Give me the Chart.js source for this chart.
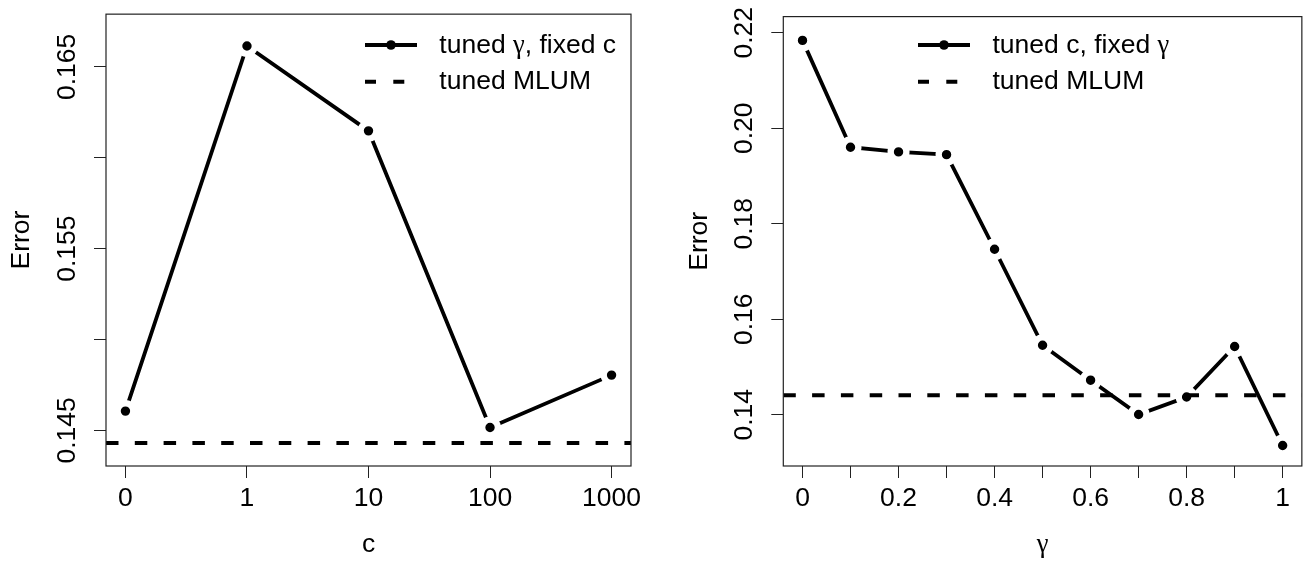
<!DOCTYPE html>
<html>
<head>
<meta charset="utf-8">
<script src="https://cdn.jsdelivr.net/npm/chart.js@4.4.1/dist/chart.umd.min.js"></script>
<style>
html, body { margin: 0; padding: 0; background: #ffffff; }
#wrap { position: relative; width: 1316px; height: 564px; overflow: hidden; }
canvas { position: absolute; top: 0; }
</style>
</head>
<body>
<div id="wrap">
  <canvas id="leftChart" width="658" height="564" style="left:0px"></canvas>
  <canvas id="rightChart" width="658" height="564" style="left:658px"></canvas>
</div>
<script>
// ---------- data ----------
const cCategories = ['0', '1', '10', '100', '1000'];
const cErrors = [0.14606, 0.16615, 0.16148, 0.14516, 0.14804];
const mlumLeft = 0.1443;

const gammaValues = [0, 0.1, 0.2, 0.3, 0.4, 0.5, 0.6, 0.7, 0.8, 0.9, 1.0];
const gammaErrors = [0.2184, 0.19602, 0.19505, 0.19447, 0.17467, 0.15457, 0.14725, 0.14006, 0.14373, 0.1543, 0.13358];
const mlumRight = 0.1441;

// tick values and labels
const leftYTicks = [0.145, 0.150, 0.155, 0.160, 0.165];
const leftYTickLabels = ['0.145', '', '0.155', '', '0.165'];
const leftXTicks = [0, 1, 2, 3, 4];
const rightYTicks = [0.14, 0.16, 0.18, 0.20, 0.22];
const rightYTickLabels = ['0.14', '0.16', '0.18', '0.20', '0.22'];
const rightXTicks = gammaValues;
const rightXTickLabels = ['0', '', '0.2', '', '0.4', '', '0.6', '', '0.8', '', '1'];

// text
const leftXTitle = 'c';
const rightXTitle = 'γ';
const yTitle = 'Error';
const leftSeriesLabel = 'tuned γ, fixed c';
const rightSeriesLabel = 'tuned c, fixed γ';
const mlumLabel = 'tuned MLUM';

// axis ranges (R-style 4% extension)
const leftXRange = [-0.16, 4.16];
const leftYRange = [0.14304, 0.16790];
const rightXRange = [-0.04, 1.04];
const rightYRange = [0.129285, 0.223378];

// ---------- styling ----------
const FONT_FAMILY = "'Liberation Sans', Arial, Helvetica, sans-serif";
const SYMBOL_FAMILY = "'Liberation Serif', 'DejaVu Serif', serif";
const FONT_SIZE = 26.5;
const AXIS_COLOR = '#222222';

const boxPlugin = {
  id: 'rbox',
  afterDraw(chart) {
    const a = chart.chartArea;
    const ctx = chart.ctx;
    ctx.save();
    ctx.strokeStyle = AXIS_COLOR;
    ctx.lineWidth = 1.2;
    ctx.strokeRect(a.left, a.top, a.right - a.left, a.bottom - a.top);
    ctx.restore();
  }
};

// draws text, using a symbol-like face for the Greek gamma (as R does)
function drawMixedText(ctx, text, x, y) {
  const parts = text.split(/(γ)/);
  let cx = x;
  for (const p of parts) {
    if (!p) continue;
    ctx.font = FONT_SIZE + 'px ' + (p === 'γ' ? SYMBOL_FAMILY : FONT_FAMILY);
    ctx.fillText(p, cx, y);
    cx += ctx.measureText(p).width;
  }
}

function legendPlugin(spec) {
  return {
    id: 'rlegend',
    afterDraw(chart) {
      const ctx = chart.ctx;
      ctx.save();
      ctx.strokeStyle = '#000';
      ctx.fillStyle = '#000';
      // row 1: solid line with point
      ctx.lineWidth = 3.8;
      ctx.beginPath();
      ctx.moveTo(spec.x0, spec.y1);
      ctx.lineTo(spec.x1, spec.y1);
      ctx.stroke();
      ctx.beginPath();
      ctx.arc((spec.x0 + spec.x1) / 2, spec.y1, 4.8, 0, Math.PI * 2);
      ctx.fill();
      // row 2: dashed line
      ctx.lineWidth = 4;
      ctx.setLineDash([11, 17.3]);
      ctx.beginPath();
      ctx.moveTo(spec.x0, spec.y2);
      ctx.lineTo(spec.x1, spec.y2);
      ctx.stroke();
      ctx.setLineDash([]);
      // labels
      ctx.textBaseline = 'alphabetic';
      ctx.textAlign = 'left';
      drawMixedText(ctx, spec.label1, spec.tx, spec.y1 + 7.7);
      drawMixedText(ctx, spec.label2, spec.tx, spec.y2 + 7.7);
      ctx.restore();
    }
  };
}

function makeChart(canvasId, cfg) {
  const font = { family: FONT_FAMILY, size: FONT_SIZE };
  const xTitleFont = { family: cfg.xTitle === 'γ' ? SYMBOL_FAMILY : FONT_FAMILY, size: FONT_SIZE };
  const mainData = cfg.xs.map((x, i) => ({ x: x, y: cfg.ys[i] }));
  const mlumData = [{ x: cfg.xRange[0], y: cfg.mlum }, { x: cfg.xRange[1], y: cfg.mlum }];
  return new Chart(document.getElementById(canvasId), {
    type: 'line',
    data: {
      datasets: [
        {
          label: cfg.seriesLabel,
          data: mainData,
          borderColor: '#000',
          borderWidth: 3.8,
          tension: 0,
          pointRadius: 7.85,
          pointBorderWidth: 6.3,
          pointBackgroundColor: '#000',
          pointBorderColor: '#fff',
          pointHoverRadius: 7.85,
          order: 2
        },
        {
          label: mlumLabel,
          data: mlumData,
          borderColor: '#000',
          borderWidth: 4,
          borderDash: [12.5, 16.3],
          borderCapStyle: 'butt',
          pointRadius: 0,
          order: 1
        }
      ]
    },
    options: {
      responsive: false,
      devicePixelRatio: 1,
      animation: false,
      events: [],
      layout: { padding: { left: 0, top: 12, right: cfg.rightPad, bottom: 0 } },
      plugins: { legend: { display: false }, tooltip: { enabled: false } },
      scales: {
        x: {
          type: 'linear',
          min: cfg.xRange[0],
          max: cfg.xRange[1],
          afterBuildTicks: (s) => { s.ticks = cfg.xTicks.map(v => ({ value: v })); },
          afterFit: (s) => { s.height = 98; },
          ticks: {
            autoSkip: false,
            maxRotation: 0,
            minRotation: 0,
            padding: 5,
            color: '#000',
            font: font,
            callback: (v, i) => cfg.xTickLabels[i]
          },
          grid: { drawOnChartArea: false, drawTicks: true, tickLength: 12, color: AXIS_COLOR, lineWidth: 1 },
          border: { display: false },
          title: { display: true, text: cfg.xTitle, color: '#000', font: xTitleFont, padding: { top: 0, bottom: 3.5 } }
        },
        y: {
          type: 'linear',
          min: cfg.yRange[0],
          max: cfg.yRange[1],
          afterBuildTicks: (s) => { s.ticks = cfg.yTicks.map(v => ({ value: v })); },
          afterFit: (s) => { s.width = cfg.yWidth; },
          ticks: {
            autoSkip: false,
            minRotation: 90,
            maxRotation: 90,
            crossAlign: 'center',
            padding: cfg.yTickPad,
            color: '#000',
            font: font,
            callback: (v, i) => cfg.yTickLabels[i]
          },
          grid: { drawOnChartArea: false, drawTicks: true, tickLength: 12, color: AXIS_COLOR, lineWidth: 1 },
          border: { display: false },
          title: { display: true, text: yTitle, color: '#000', font: font, padding: { top: cfg.yTitlePad, bottom: 0 } }
        }
      }
    },
    plugins: [boxPlugin, legendPlugin(cfg.legend)]
  });
}

makeChart('leftChart', {
  xs: leftXTicks,
  ys: cErrors,
  mlum: mlumLeft,
  xRange: leftXRange,
  yRange: leftYRange,
  xTicks: leftXTicks,
  xTickLabels: cCategories,
  yTicks: leftYTicks,
  yTickLabels: leftYTickLabels,
  xTitle: leftXTitle,
  seriesLabel: leftSeriesLabel,
  rightPad: 27,
  yWidth: 106,
  yTickPad: -6.6,
  yTitlePad: 5.8,
  legend: { x0: 365, x1: 417, y1: 45, y2: 81.7, tx: 439.3, label1: leftSeriesLabel, label2: mlumLabel }
});

makeChart('rightChart', {
  xs: gammaValues,
  ys: gammaErrors,
  mlum: mlumRight,
  xRange: rightXRange,
  yRange: rightYRange,
  xTicks: rightXTicks,
  xTickLabels: rightXTickLabels,
  yTicks: rightYTicks,
  yTickLabels: rightYTickLabels,
  xTitle: rightXTitle,
  seriesLabel: rightSeriesLabel,
  rightPad: 9.3,
  yWidth: 125.3,
  yTickPad: 0.7,
  yTitlePad: 25.5,
  legend: { x0: 260, x1: 312, y1: 45, y2: 81.7, tx: 334.5, label1: rightSeriesLabel, label2: mlumLabel }
});
</script>
</body>
</html>
